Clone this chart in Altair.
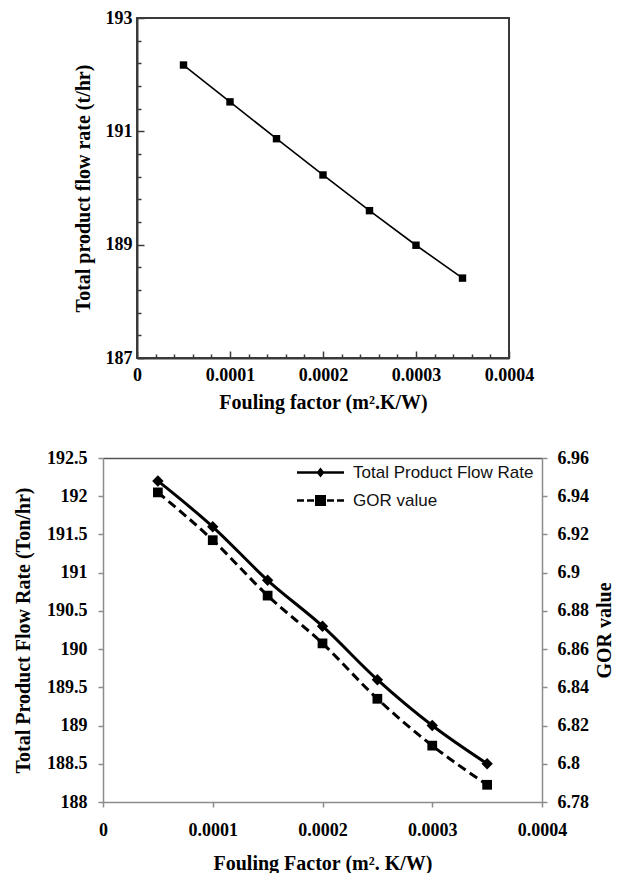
import altair as alt
import pandas as pd

# ---------------- data ----------------
fouling = [0.00005, 0.0001, 0.00015, 0.0002, 0.00025, 0.0003, 0.00035]

# top panel: total product flow rate (t/hr)
flow_top = [192.17, 191.52, 190.87, 190.23, 189.60, 188.99, 188.41]

# bottom panel
flow_rate = [192.2, 191.6, 190.9, 190.3, 189.6, 189.0, 188.5]
gor_value = [6.942, 6.917, 6.888, 6.863, 6.834, 6.8095, 6.789]
series = ["Total Product Flow Rate", "GOR value"]

# tick values
top_x_ticks = [0, 0.00002, 0.00004, 0.00006, 0.00008, 0.0001, 0.00012, 0.00014,
               0.00016, 0.00018, 0.0002, 0.00022, 0.00024, 0.00026, 0.00028,
               0.0003, 0.00032, 0.00034, 0.00036, 0.00038, 0.0004]
top_x_major = [0, 0.0001, 0.0002, 0.0003, 0.0004]
top_y_ticks = [187, 187.4, 187.8, 188.2, 188.6, 189, 189.4, 189.8, 190.2, 190.6,
               191, 191.4, 191.8, 192.2, 192.6, 193]
top_y_major = [187, 189, 191, 193]

bot_x_ticks = [0, 0.0001, 0.0002, 0.0003, 0.0004]
bot_left_ticks = [188, 188.5, 189, 189.5, 190, 190.5, 191, 191.5, 192, 192.5]
bot_right_ticks = [6.78, 6.8, 6.82, 6.84, 6.86, 6.88, 6.9, 6.92, 6.94, 6.96]

SERIF = "Liberation Serif"
SANS = "Liberation Sans"
BOX = "#3a3a3a"
GRAY = "#8c8c8c"

# ---------------- top panel ----------------
top_df = pd.DataFrame({"x": fouling, "y": flow_top})

def major_test(lst):
    return "indexof([" + ",".join(repr(v) for v in lst) + "], datum.value) >= 0"

x_top = alt.X(
    "x:Q",
    scale=alt.Scale(domain=[0, 0.0004], nice=False, zero=False),
    axis=alt.Axis(
        values=top_x_ticks,
        labelExpr=f"({major_test(top_x_major)}) ? '' + datum.value : ''",
        tickSize={"expr": f"({major_test(top_x_major)}) ? -7 : -4"},
        tickColor=BOX, tickWidth=1.5,
        domainColor=BOX, domainWidth=2,
        labelPadding=15, titlePadding=8,
        title="Fouling factor (m².K/W)",
    ),
)
y_top = alt.Y(
    "y:Q",
    scale=alt.Scale(domain=[187, 193], nice=False, zero=False),
    axis=alt.Axis(
        values=top_y_ticks,
        labelExpr=f"({major_test(top_y_major)}) ? '' + datum.value : ''",
        tickSize={"expr": f"({major_test(top_y_major)}) ? -7 : -4"},
        tickColor=BOX, tickWidth=1.5,
        domainColor=BOX, domainWidth=2,
        labelPadding=12, titlePadding=12,
        title="Total product flow rate (t/hr)",
    ),
)

top_line = alt.Chart(top_df).mark_line(color="black", strokeWidth=1.6).encode(x=x_top, y=y_top)
top_pts = alt.Chart(top_df).mark_point(
    shape="square", filled=True, size=55, color="black", opacity=1
).encode(x=x_top, y=y_top)

top_chart = alt.layer(top_line, top_pts).properties(
    width=372, height=340,
    view=alt.ViewBackground(stroke=BOX, strokeOpacity=1, strokeWidth=2),
)

# ---------------- bottom panel ----------------
flow_df = pd.DataFrame({"x": fouling, "y": flow_rate, "series": series[0]})
gor_df = pd.DataFrame({"x": fouling, "y": gor_value, "series": series[1]})

x_bot = alt.X(
    "x:Q",
    scale=alt.Scale(domain=[0, 0.0004], nice=False, zero=False),
    axis=alt.Axis(
        values=bot_x_ticks, labelExpr="'' + datum.value",
        domainColor=GRAY, domainWidth=1.5, tickColor=GRAY, tickWidth=1.5, tickSize=5,
        labelPadding=14, titlePadding=14,
        title="Fouling Factor (m². K/W)",
    ),
)
x_bot_top = alt.X(
    "x:Q",
    scale=alt.Scale(domain=[0, 0.0004], nice=False, zero=False),
    axis=alt.Axis(orient="top", labels=False, ticks=False, domainColor="#555555",
                  domainWidth=1.5, title=None),
)
y_left = alt.Y(
    "y:Q",
    scale=alt.Scale(domain=[188, 192.5], nice=False, zero=False),
    axis=alt.Axis(
        values=bot_left_ticks, labelExpr="'' + datum.value",
        domainColor=GRAY, domainWidth=1.5, tickColor=GRAY, tickWidth=1.5, tickSize=5,
        labelPadding=11, titlePadding=13,
        title="Total Product Flow Rate (Ton/hr)",
    ),
)
y_right = alt.Y(
    "y:Q",
    scale=alt.Scale(domain=[6.78, 6.96], nice=False, zero=False),
    axis=alt.Axis(
        orient="right",
        values=bot_right_ticks, labelExpr="'' + datum.value",
        domainColor=GRAY, domainWidth=1.5, tickColor=GRAY, tickWidth=1.5, tickSize=5,
        labelPadding=10, titlePadding=6, titleAngle=270, titleBaseline="top",
        title="GOR value",
    ),
)

# legend glyphs (unit box, 1 unit = 5 px): line + diamond, dashed line + square
flow_path = ("M-4.7,-0.25H4.7V0.25H-4.7Z"
             "M0,-1L0.8,0L0,1L-0.8,0Z")
gor_path = ("M-4.7,-0.25H-3.3V0.25H-4.7Z"
            "M-2.7,-0.25H-1.3V0.25H-2.7Z"
            "M1.3,-0.25H2.7V0.25H1.3Z"
            "M3.3,-0.25H4.7V0.25H3.3Z"
            "M-1.1,-1.1H1.1V1.1H-1.1Z")

color_enc = alt.Color(
    "series:N",
    scale=alt.Scale(domain=series, range=["black", "black"]),
    legend=alt.Legend(
        title=None, orient="none", legendX=209, legendY=6, padding=0,
        labelOffset=24, rowPadding=10, symbolSize=100, labelLimit=400,
        labelFont=SANS, labelFontSize=17, labelColor="#111111", labelFontWeight="normal",
        symbolType={"expr": f"datum.value === 'GOR value' ? '{gor_path}' : '{flow_path}'"},
        symbolStrokeWidth=0, symbolOpacity=1,
    ),
)

flow_layer = alt.layer(
    alt.Chart(flow_df).mark_line(interpolate="monotone", color="black", strokeWidth=3)
    .encode(x=x_bot, y=y_left),
    alt.Chart(flow_df).mark_point(filled=True, shape="diamond", size=130, opacity=1)
    .encode(x=x_bot, y=y_left, color=color_enc),
)
gor_layer = alt.layer(
    alt.Chart(gor_df).mark_line(interpolate="monotone", color="black", strokeWidth=3,
                                strokeDash=[9, 5])
    .encode(x=x_bot_top, y=y_right),
    alt.Chart(gor_df).mark_point(filled=True, shape="square", size=95, opacity=1)
    .encode(x=x_bot_top, y=y_right, color=color_enc),
)

bottom_chart = alt.layer(flow_layer, gor_layer).resolve_scale(
    y="independent"
).resolve_axis(x="independent").properties(width=439, height=344)

# ---------------- layout ----------------
def spacer(w):
    return alt.Chart(pd.DataFrame({"v": [0]})).mark_point(opacity=0, size=1).properties(
        width=w, height=10
    )

top_row = alt.hconcat(spacer(64), top_chart, spacing=0)
bottom_row = alt.hconcat(spacer(5), bottom_chart, spacing=0).resolve_scale(
    color="independent"
).resolve_legend(color="independent")

chart = alt.vconcat(top_row, bottom_row, spacing=36).resolve_scale(
    color="independent"
).resolve_legend(color="independent").properties(
    padding=0
).configure_view(strokeOpacity=0).configure_axis(
    labelFont=SERIF, labelFontWeight="bold", labelFontSize=18, labelColor="black",
    titleFont=SERIF, titleFontWeight="bold", titleFontSize=20, titleColor="black",
    grid=False, labelFlush=False,
)

chart.save("out.html", embed_options={"renderer": "svg", "actions": False})
